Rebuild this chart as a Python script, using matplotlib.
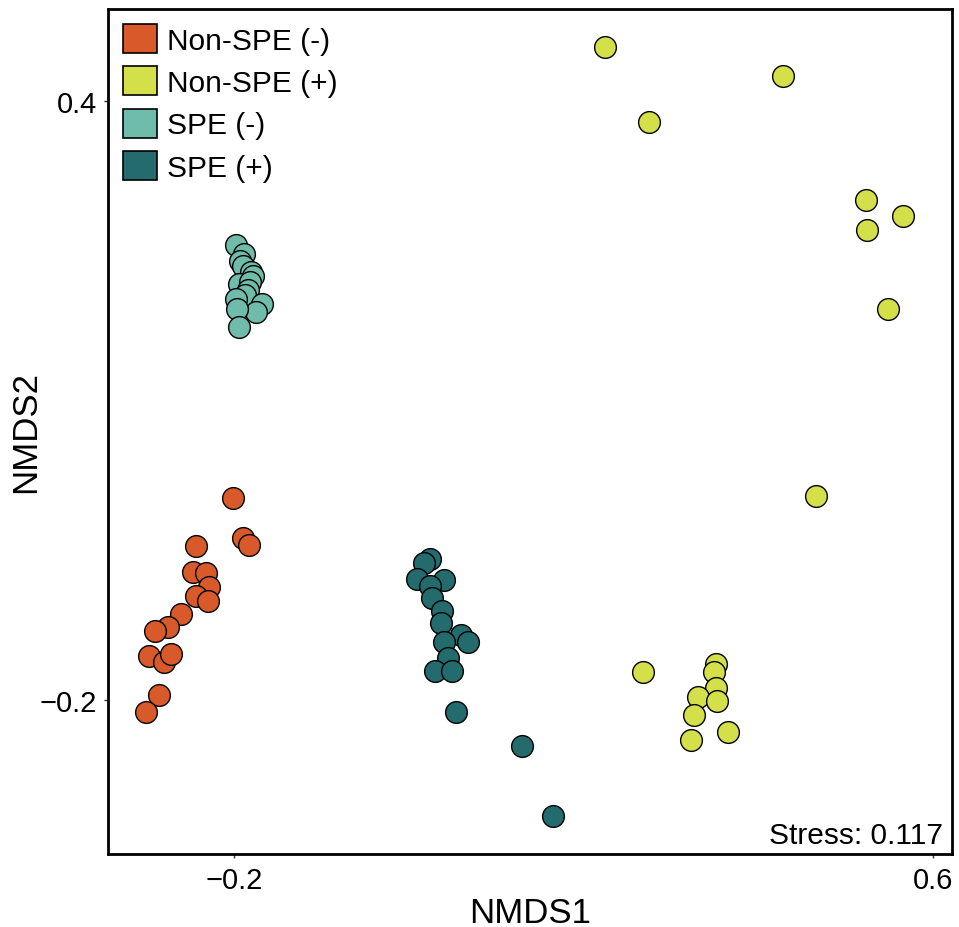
import matplotlib
matplotlib.use("Agg")
from matplotlib import pyplot as plt
from matplotlib.patches import Rectangle

plt.rcParams['font.family'] = ['Liberation Sans', 'DejaVu Sans']

groups = ["Non-SPE (-)", "Non-SPE (+)", "SPE (-)", "SPE (+)"]
colors = ["#D85A2A", "#D4E04A", "#6FBCAA", "#246B6E"]

non_spe_neg_x = [-0.2011, -0.1897, -0.1828, -0.2439, -0.2470, -0.2324, -0.2293, -0.2439, -0.2301,
                 -0.2614, -0.2756, -0.2912, -0.2981, -0.2805, -0.2729, -0.2859, -0.3011]
non_spe_neg_y = [0.0029, -0.0379, -0.0443, -0.0453, -0.0714, -0.0727, -0.0864, -0.0960, -0.1010,
                 -0.1134, -0.1268, -0.1305, -0.1555, -0.1621, -0.1538, -0.1949, -0.2122]

non_spe_pos_x = [0.2246, 0.4285, 0.2750, 0.5236, 0.5660, 0.5247, 0.5487, 0.4663, 0.2678,
                 0.3518, 0.3498, 0.3518, 0.3308, 0.3533, 0.3266, 0.3652, 0.3231]
non_spe_pos_y = [0.4544, 0.4253, 0.3792, 0.3011, 0.2851, 0.2711, 0.1919, 0.0046, -0.1716,
                 -0.1638, -0.1721, -0.1879, -0.1972, -0.2012, -0.2149, -0.2317, -0.2397]

spe_neg_x = [-0.1981, -0.1885, -0.1935, -0.1904, -0.1812, -0.1782, -0.1943, -0.1820,
             -0.1843, -0.1877, -0.1981, -0.1686, -0.1751, -0.1973, -0.1943]
spe_neg_y = [0.2563, 0.2470, 0.2403, 0.2353, 0.2293, 0.2253, 0.2169, 0.2186,
             0.2109, 0.2059, 0.2019, 0.1969, 0.1886, 0.1919, 0.1741]

spe_pos_x = [0.0242, 0.0176, 0.0089, 0.0402, 0.0242, 0.0261, 0.0383, 0.0368, 0.0593,
             0.0680, 0.0402, 0.0444, 0.0299, 0.0497, 0.0536, 0.1296, 0.1647]
spe_pos_y = [-0.0586, -0.0626, -0.0787, -0.0797, -0.0854, -0.0980, -0.1104, -0.1227, -0.1348,
             -0.1415, -0.1421, -0.1578, -0.1705, -0.1705, -0.2122, -0.2463, -0.3158]

stress = 0.117

xs = [non_spe_neg_x, non_spe_pos_x, spe_neg_x, spe_pos_x]
ys = [non_spe_neg_y, non_spe_pos_y, spe_neg_y, spe_pos_y]

fig = plt.figure(figsize=(9.59, 9.28), dpi=100)
ax = fig.add_axes([0.1126, 0.0787, 0.88, 0.9105])

for x, y, c in zip(xs, ys, colors):
    ax.scatter(x, y, s=245, c=c, edgecolors="black", linewidths=1.0, zorder=3)

ax.set_xlim(-0.3447, 0.6218)
ax.set_ylim(-0.3542, 0.4925)
ax.set_xticks([-0.2, 0.6])
ax.set_yticks([-0.2, 0.4])
ax.set_xticklabels(["\u22120.2", "0.6"])
ax.set_yticklabels(["\u22120.2", "0.4"])
ax.tick_params(length=3, width=1, color="#333333", labelsize=21)
ax.tick_params(axis="x", pad=6)
ax.tick_params(axis="y", pad=5)
for sp in ax.spines.values():
    sp.set_linewidth(2)

ax.set_xlabel("NMDS1", fontsize=25, labelpad=1)
ax.set_ylabel("NMDS2", fontsize=25, labelpad=-2)

ax.text(0.99, 0.006, "Stress: %.3f" % stress, transform=ax.transAxes,
        ha="right", va="bottom", fontsize=21.5)

handles = [Rectangle((0, 0), 1, 1, facecolor=c, edgecolor="black", linewidth=1.2) for c in colors]
ax.legend(handles, groups, loc="upper left", fontsize=21.5, frameon=False,
          handlelength=1.15, handleheight=1.12, labelspacing=0.39, handletextpad=0.33,
          borderaxespad=0.25, borderpad=0.25)

fig.savefig("out.png", dpi=100)
